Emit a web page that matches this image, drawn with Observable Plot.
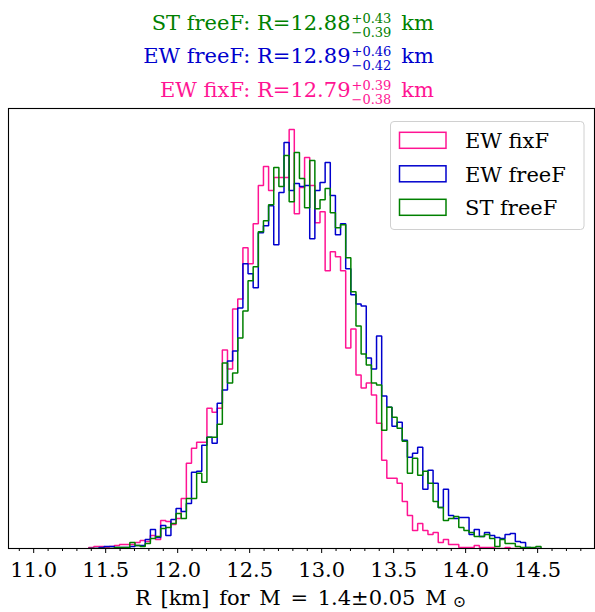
<!DOCTYPE html>
<html><head><meta charset="utf-8">
<script src="https://cdn.jsdelivr.net/npm/d3@7"></script>
<script src="https://cdn.jsdelivr.net/npm/@observablehq/plot@0.6"></script>
<style>
body{margin:0;background:#fff;}
#wrap{position:relative;width:595px;height:612px;overflow:hidden;background:#fff;}
#wrap svg{position:absolute;left:0;top:0;}
</style></head><body><div id="wrap"></div>
<script>
// ---- data ----
const binStart = 11.382;   // left edge of first bin (km)
const binWidth = 0.0357;   // bin width (km)
const fixF = [
 1,2,2,1,2,3,4,4,4,6,
 8,7,13,9,28,27,24,30,50,85,
 100,106,106,140,136,140,198,179,239,249,
 300,284,324,362,381,357,370,370,370,418,
 334,360,390,362,325,336,277,296,291,277,
 200,219,173,160,165,153,125,88,70,70,
 65,47,33,18,25,18,14,16,6,9,
 4,4,1,1,1,3,1,1,1,0,
 0,1,0,0,0,0,0,0];
const freeF = [
 0,0,1,2,2,1,1,1,2,3,
 3,9,19,11,23,13,29,40,37,45,
 76,77,103,111,105,145,158,187,197,240,
 284,274,260,315,322,342,303,355,405,357,
 364,361,362,309,357,365,385,352,313,324,
 279,253,244,242,190,179,212,152,141,122,
 126,108,91,95,101,59,78,65,41,59,
 33,30,31,31,14,19,12,16,13,11,
 10,14,15,7,6,1,0,0];
const stFreeF = [
 0,0,0,0,0,1,1,1,6,3,
 2,5,10,12,20,21,25,35,30,50,
 50,75,66,111,111,124,185,165,175,210,
 237,267,281,316,327,343,380,361,392,346,
 395,369,340,387,339,348,359,335,320,323,
 290,256,222,194,183,165,163,118,141,131,
 120,107,75,90,73,77,65,47,41,28,
 30,32,21,18,16,12,12,14,10,2,
 9,5,5,2,1,1,1,2];
const seriesNames = ["EW fixF", "EW freeF", "ST freeF"];
const seriesColors = ["#ff1493", "#0000cd", "#008000"];
const seriesValues = [fixF, freeF, stFreeF];
const medians = ["12.79", "12.89", "12.88"];
const upErr = ["+0.39", "+0.46", "+0.43"];
const dnErr = ["\u22120.38", "\u22120.42", "\u22120.39"];
const majorTicks = [11.0, 11.5, 12.0, 12.5, 13.0, 13.5, 14.0, 14.5];
const minorTicks = d3.range(109, 149).map(d => d / 10).filter(d => Math.round(d * 10) % 5 !== 0);
const xDomain = [10.825, 14.895];

// ---- build step outlines ----
function stepPoints(vals, name) {
  const pts = [{x: binStart, y: 0, name}];
  vals.forEach((v, k) => {
    const x0 = binStart + k * binWidth;
    pts.push({x: x0, y: v, name});
    pts.push({x: x0 + binWidth, y: v, name});
  });
  pts.push({x: binStart + vals.length * binWidth, y: 0, name});
  return pts;
}
const yMax = d3.max(seriesValues.flat()) * 1.05;

const plot = Plot.plot({
  width: 595, height: 612,
  marginTop: 108, marginBottom: 64, marginLeft: 8, marginRight: 1,
  style: {fontFamily: "DejaVu Serif", background: "transparent", color: "black"},
  x: {domain: xDomain},
  y: {domain: [0, yMax], axis: null},
  marks: [
    ...seriesValues.map((vals, i) => Plot.line(stepPoints(vals, seriesNames[i]), {
      x: "x", y: "y", stroke: seriesColors[i], strokeWidth: 1.5, strokeLinejoin: "miter", clip: true
    })),
    Plot.axisX({ticks: minorTicks, tickSize: 3, tickFormat: () => "", label: null, strokeWidth: 1}),
    Plot.axisX({ticks: majorTicks, tickSize: 5, tickPadding: 8.5, tickFormat: d3.format(".1f"),
      fontSize: 21, label: null, fill: "black", strokeWidth: 1}),
    Plot.frame({stroke: "black", strokeWidth: 1.1})
  ]
});
const wrap = document.getElementById("wrap");
wrap.appendChild(plot);

// ---- overlay: titles, legend, x label ----
const ov = d3.create("svg").attr("width", 595).attr("height", 612)
  .style("font-family", "DejaVu Serif").style("pointer-events", "none");
wrap.appendChild(ov.node());

const titleOrder = [2, 1, 0];
const baselines = [29.5, 62.8, 96.5];
const titleRight = 434;
titleOrder.forEach((si, row) => {
  const base = baselines[row];
  const g = ov.append("g").attr("fill", seriesColors[si]);
  const t1 = g.append("text").attr("x", 0).attr("y", base).attr("font-size", 21)
    .text(`${seriesNames[si]}: R=${medians[si]}`);
  const w1 = t1.node().getComputedTextLength();
  const sup = g.append("text").attr("x", w1 + 1).attr("y", base - 7).attr("font-size", 13).text(upErr[si]);
  const sub = g.append("text").attr("x", w1 + 1).attr("y", base + 7).attr("font-size", 13).text(dnErr[si]);
  const ws = Math.max(sup.node().getComputedTextLength(), sub.node().getComputedTextLength());
  const km = g.append("text").attr("x", w1 + 1 + ws + 10).attr("y", base).attr("font-size", 21).text("km");
  const W = w1 + 1 + ws + 10 + km.node().getComputedTextLength();
  g.attr("transform", `translate(${titleRight - W},0)`);
});

// legend
const lg = ov.append("g");
lg.append("rect").attr("x", 390.5).attr("y", 121.5).attr("width", 193.5).attr("height", 108)
  .attr("rx", 3.5).attr("fill", "white").attr("fill-opacity", 0.8)
  .attr("stroke", "#d0d0d0").attr("stroke-width", 1);
const legRows = [140.3, 173.8, 207.3];
seriesNames.forEach((n, i) => {
  lg.append("rect").attr("x", 399.5).attr("y", legRows[i] - 8).attr("width", 46.5).attr("height", 16)
    .attr("fill", "none").attr("stroke", seriesColors[i]).attr("stroke-width", 1.5);
  lg.append("text").attr("x", 465).attr("y", legRows[i] + 8).attr("font-size", 21).attr("fill", "black").text(n);
});

// x label
const xl = ov.append("g").attr("fill", "black");
const xt = xl.append("text").attr("x", 0).attr("y", 604.5).attr("font-size", 21)
  .attr("word-spacing", "3px").text("R [km] for M = 1.4\u00b10.05 M");
const xw = xt.node().getComputedTextLength();
const xs = xl.append("text").attr("x", xw + 6).attr("y", 607).attr("font-size", 16).text("\u2299");
const XW = xw + 6 + xs.node().getComputedTextLength();
xl.attr("transform", `translate(${300.5 - XW / 2},0)`);
</script></body></html>
